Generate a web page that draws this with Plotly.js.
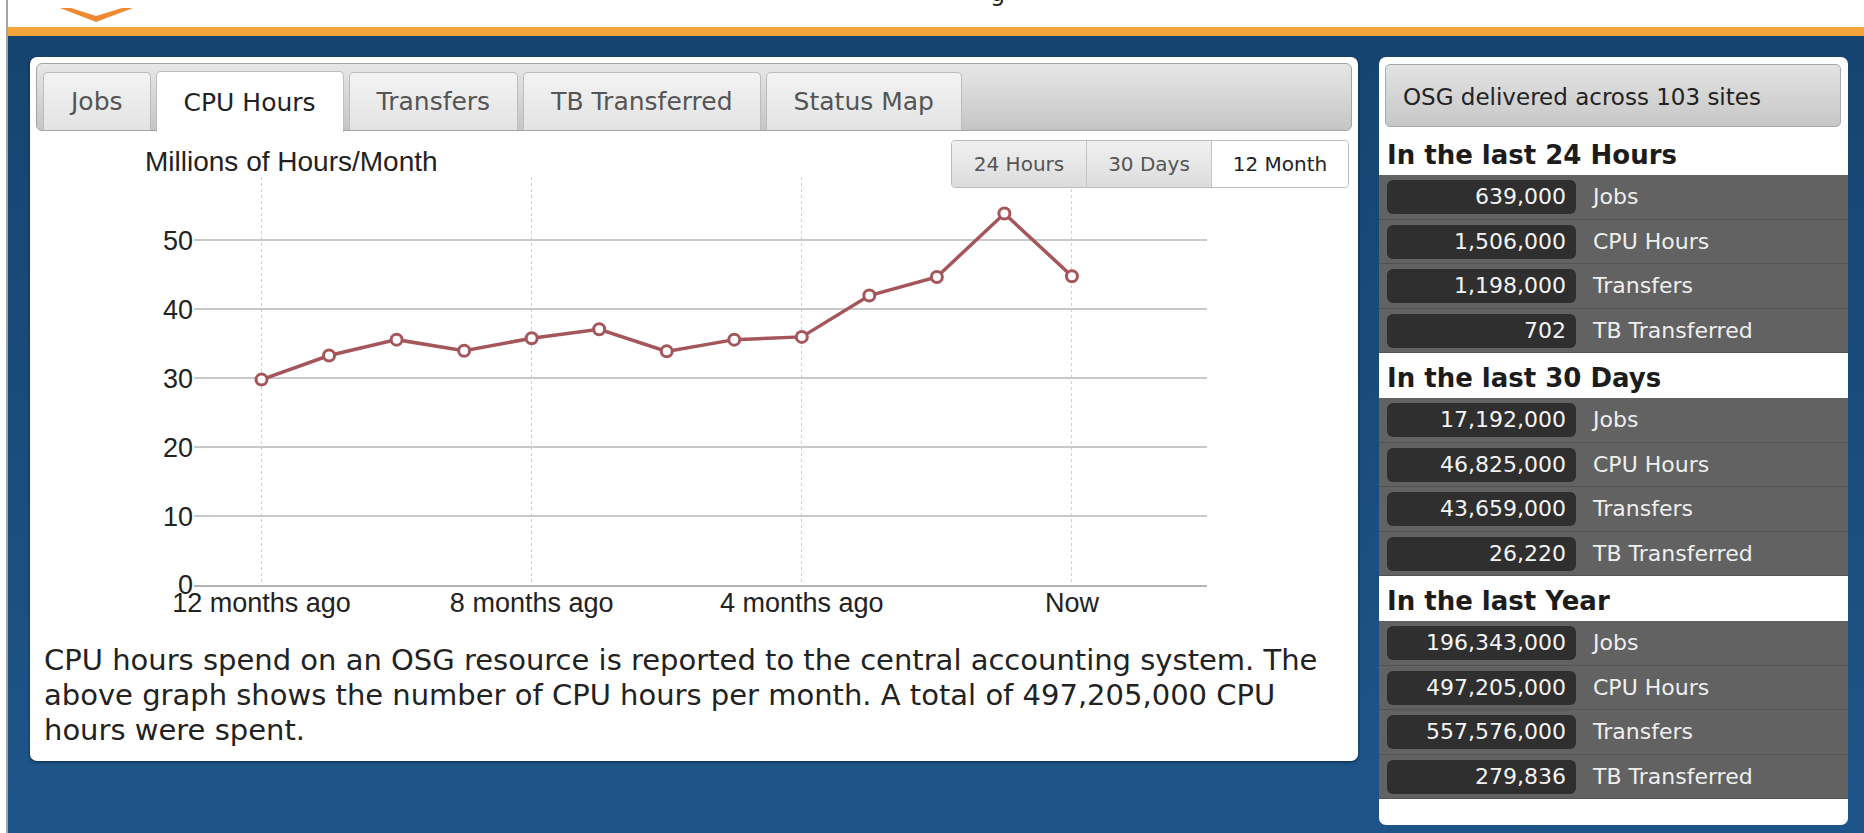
<!DOCTYPE html>
<html><head><meta charset="utf-8">
<script src="https://cdn.plot.ly/plotly-3.0.1.min.js"></script>
<style>
html,body{margin:0;padding:0;}
body{width:1864px;height:833px;position:relative;overflow:hidden;background:#fff;font-family:"DejaVu Sans",Verdana,sans-serif;}
#edge{position:absolute;left:6px;top:0;width:2px;height:833px;background:#a6a6a6;}
#chev{position:absolute;left:0;top:0;}
#topmark{position:absolute;left:990px;top:-21px;font:24px "DejaVu Sans";color:#222;}
#orange{position:absolute;left:8px;top:27px;right:0;height:9px;background:#f5a33b;}
#navy{position:absolute;left:8px;top:36px;right:0;bottom:0;background:linear-gradient(#164470,#1e5588);}
#leftcard{position:absolute;left:30px;top:57px;width:1328px;height:704px;background:#fff;border-radius:7px;box-shadow:0 1px 3px rgba(0,0,0,.55);}
#tabbar{position:absolute;left:6px;top:6px;width:1314px;height:66px;border:1px solid #a4a4a4;border-radius:6px;background:linear-gradient(#e7e7e7,#c5c5c5);}
#tabs{position:absolute;left:6px;top:8px;display:flex;gap:5px;}
.tab{height:58px;line-height:58px;padding:0 27px;font-size:25px;color:#555;border:1px solid #bdbdbd;border-bottom:none;border-radius:5px 5px 0 0;background:linear-gradient(#f3f3f3,#e3e3e3);box-sizing:border-box;white-space:nowrap;}
.tab.active{background:#fff;color:#222;height:61px;margin-top:-1px;line-height:61px;}
#chart{position:absolute;left:0;top:74px;width:1328px;height:520px;}
#btns{position:absolute;left:921px;top:83px;display:flex;border:1px solid #bbb;border-radius:4px;overflow:hidden;z-index:5;}
.btn{height:46px;line-height:46px;font-size:20px;color:#555;text-align:center;background:linear-gradient(#f1f1f1,#dcdcdc);border-left:1px solid #c4c4c4;box-sizing:border-box;}
.btn:first-child{border-left:none;}
.btn.active{background:#fff;color:#222;}
#desc{position:absolute;left:14px;top:586px;font-size:29px;line-height:35px;color:#222;white-space:nowrap;}
#rightcard{position:absolute;left:1379px;top:57px;width:469px;height:768px;background:#fff;border-radius:7px;}
#sitebox{position:absolute;left:6px;top:7px;width:456px;height:63px;box-sizing:border-box;border:1px solid #aaa;border-radius:5px;background:linear-gradient(#e3e3e3,#c7c7c7);font-size:23px;line-height:64px;padding-left:17px;color:#222;}
#stats{position:absolute;left:0;top:73px;width:469px;}
.sec{height:45px;line-height:50px;overflow:hidden;padding-left:8px;font-weight:bold;font-size:26px;color:#1c1c1c;background:#fff;}
.row{height:44.5px;position:relative;background:#626262;border-bottom:1px solid #525252;box-sizing:border-box;}
.pill{position:absolute;left:8px;top:5px;width:189px;height:34px;border-radius:6px;background:#2f2f2f;color:#f4f4f4;font-size:22px;line-height:34px;text-align:right;padding-right:10px;box-sizing:border-box;}
.lbl{position:absolute;left:214px;top:0;line-height:44px;font-size:22px;color:#efefef;}
</style></head>
<body>
<div id="edge"></div>
<svg id="chev" width="160" height="26"><polygon points="60,8 96,22 133,8 122,8 96,16 71,8" fill="#f08a32"/></svg>
<div id="topmark">g</div>
<div id="orange"></div>
<div id="navy"></div>
<div id="leftcard">
  <div id="tabbar"><div id="tabs"></div></div>
  <div id="chart"></div>
  <div id="btns"></div>
  <div id="desc"></div>
</div>
<div id="rightcard">
  <div id="sitebox"></div>
  <div id="stats"></div>
</div>
<script>
// ---- data ----
const tabNames = ['Jobs', 'CPU Hours', 'Transfers', 'TB Transferred', 'Status Map'];
const activeTab = 'CPU Hours';
const rangeButtons = ['24 Hours', '30 Days', '12 Month'];
const activeRange = '12 Month';
const chartTitle = 'Millions of Hours/Month';
const monthsAgo = [-12, -11, -10, -9, -8, -7, -6, -5, -4, -3, -2, -1, 0];
const cpuHoursMillions = [29.8, 33.3, 35.6, 34.0, 35.8, 37.1, 33.9, 35.6, 36.0, 42.0, 44.7, 53.9, 44.8];
const xTickVals = [-12, -8, -4, 0];
const xTickText = ['12 months ago', '8 months ago', '4 months ago', 'Now'];
const yTickVals = [0, 10, 20, 30, 40, 50];
const descriptionLines = [
  'CPU hours spend on an OSG resource is reported to the central accounting system. The',
  'above graph shows the number of CPU hours per month. A total of 497,205,000 CPU',
  'hours were spent.'
];
const siteSummary = 'OSG delivered across 103 sites';
const sectionTitles = ['In the last 24 Hours', 'In the last 30 Days', 'In the last Year'];
const statLabels = ['Jobs', 'CPU Hours', 'Transfers', 'TB Transferred'];
const last24Hours = ['639,000', '1,506,000', '1,198,000', '702'];
const last30Days = ['17,192,000', '46,825,000', '43,659,000', '26,220'];
const lastYear = ['196,343,000', '497,205,000', '557,576,000', '279,836'];

// ---- page chrome ----
const tabsEl = document.getElementById('tabs');
tabNames.forEach(t => {
  const d = document.createElement('div');
  d.className = 'tab' + (t === activeTab ? ' active' : '');
  d.textContent = t;
  tabsEl.appendChild(d);
});
const btnWidths = {'24 Hours': 134, '30 Days': 125, '12 Month': 137};
const btnsEl = document.getElementById('btns');
rangeButtons.forEach(b => {
  const d = document.createElement('div');
  d.className = 'btn' + (b === activeRange ? ' active' : '');
  d.style.width = btnWidths[b] + 'px';
  d.textContent = b;
  btnsEl.appendChild(d);
});
const descEl = document.getElementById('desc');
descriptionLines.forEach((l, i) => {
  if (i) descEl.appendChild(document.createElement('br'));
  descEl.appendChild(document.createTextNode(l));
});
document.getElementById('sitebox').textContent = siteSummary;
const statsEl = document.getElementById('stats');
[last24Hours, last30Days, lastYear].forEach((vals, si) => {
  const h = document.createElement('div');
  h.className = 'sec';
  h.textContent = sectionTitles[si];
  statsEl.appendChild(h);
  vals.forEach((v, i) => {
    const r = document.createElement('div');
    r.className = 'row';
    const p = document.createElement('div'); p.className = 'pill'; p.textContent = v;
    const l = document.createElement('div'); l.className = 'lbl'; l.textContent = statLabels[i];
    r.appendChild(p); r.appendChild(l);
    statsEl.appendChild(r);
  });
});

// ---- chart ----
const lineColor = '#a4565b';
const trace = {
  x: monthsAgo,
  y: cpuHoursMillions,
  type: 'scatter',
  mode: 'lines+markers',
  line: {color: lineColor, width: 3.5},
  marker: {symbol: 'circle', size: 11, color: '#ffffff', line: {color: lineColor, width: 3}},
  hoverinfo: 'skip'
};
const layout = {
  width: 1328, height: 520,
  margin: {l: 164, r: 151, t: 46, b: 66},
  paper_bgcolor: 'rgba(0,0,0,0)',
  plot_bgcolor: '#ffffff',
  showlegend: false,
  font: {family: '"Liberation Sans", Arial, sans-serif', size: 27, color: '#222'},
  xaxis: {
    range: [-13, 2], tickvals: xTickVals, ticktext: xTickText,
    showgrid: true, gridcolor: '#cfcfcf', griddash: 'dot', gridwidth: 1,
    zeroline: false, showline: true, linecolor: '#b4b4b4', linewidth: 2,
    ticks: '', ticklabelstandoff: -7, tickfont: {size: 27, color: '#222'}, fixedrange: true
  },
  yaxis: {
    range: [0, 59.2], tickvals: yTickVals,
    showgrid: true, gridcolor: '#c8c8c8', gridwidth: 2,
    zeroline: false, showline: false, ticks: '', ticklabelstandoff: 0,
    tickfont: {size: 27, color: '#222'}, fixedrange: true
  },
  annotations: [{
    text: chartTitle, xref: 'paper', yref: 'paper', x: 0, y: 1,
    xanchor: 'left', yanchor: 'middle', xshift: -51, yshift: 16,
    showarrow: false, font: {size: 28, color: '#222', family: '"Liberation Sans", Arial, sans-serif'}
  }]
};
Plotly.newPlot('chart', [trace], layout, {displayModeBar: false, staticPlot: true});
</script>
</body></html>
